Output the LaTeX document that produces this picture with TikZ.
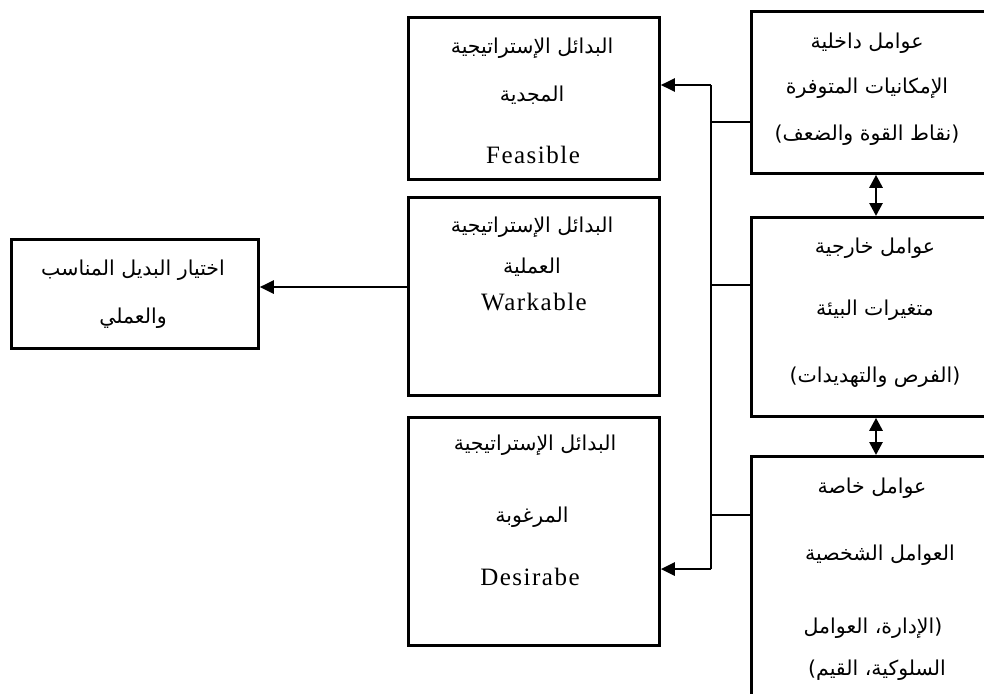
\documentclass[tikz,border=0pt]{standalone}
\usepackage{fontspec}
\setmainfont{Liberation Serif}
\newfontfamily\arabicfont[Script=Arabic]{DejaVu Sans}
\newfontfamily\latfont[LetterSpace=6]{Liberation Serif}
\TeXXeTstate=1
\usetikzlibrary{arrows.meta}
\newcommand\artxt[1]{{\arabicfont\beginR #1\endR}}
\tikzset{
  box/.style={draw=black, line width=2.8pt, fill=white, anchor=north west, inner sep=0pt},
  artx/.style={font=\fontsize{20.5}{22}\selectfont, inner sep=0pt},
  lat/.style={font=\latfont\fontsize{25}{27}\selectfont, inner sep=0pt},
  conn/.style={draw=black, line width=2.7pt},
  arr/.style={conn, -{Triangle[length=14pt,width=13pt]}},
  darr/.style={conn, {Triangle[length=13pt,width=13pt]}-{Triangle[length=13pt,width=13pt]}}
}
\begin{document}
\begin{tikzpicture}[x=1pt,y=-1pt]
\clip (0,0) rectangle (984,693);
\fill[white] (0,0) rectangle (984,693);
% right boxes
\node[box, minimum width=260pt, minimum height=162pt] (R1) at (750,10) {};
\node[box, minimum width=260pt, minimum height=199pt] (R2) at (750,216) {};
\node[box, minimum width=260pt, minimum height=260pt] (R3) at (750,455) {};
% middle boxes
\node[box, minimum width=251pt, minimum height=162pt] (M1) at (407,16) {};
\node[box, minimum width=251pt, minimum height=198pt] (M2) at (407,196) {};
\node[box, minimum width=251pt, minimum height=228pt] (M3) at (407,416) {};
% left box
\node[box, minimum width=247pt, minimum height=109pt] (L) at (10,238) {};
% texts R1
\node[artx] (r11) at (867,43) {\artxt{عوامل داخلية}};
\node[artx] (r12) at (867,88) {\artxt{الإمكانيات المتوفرة}};
\node[artx] (r13) at (867,135) {\artxt{(نقاط القوة والضعف)}};
% texts R2
\node[artx] (r21) at (875,248) {\artxt{عوامل خارجية}};
\node[artx] (r22) at (875,310) {\artxt{متغيرات البيئة}};
\node[artx] (r23) at (875,377) {\artxt{(الفرص والتهديدات)}};
% texts R3
\node[artx] (r31) at (872,488) {\artxt{عوامل خاصة}};
\node[artx] (r32) at (880,555) {\artxt{العوامل الشخصية}};
\node[artx] (r33) at (873,628) {\artxt{(الإدارة، العوامل}};
\node[artx] (r34) at (877,670) {\artxt{السلوكية، القيم)}};
% texts M1
\node[artx] (m11) at (532,48) {\artxt{البدائل الإستراتيجية}};
\node[artx] (m12) at (532,95) {\artxt{المجدية}};
\node[lat] (m13) at (533,155) {Feasible};
% texts M2
\node[artx] (m21) at (532,227) {\artxt{البدائل الإستراتيجية}};
\node[artx] (m22) at (532,267) {\artxt{العملية}};
\node[lat] (m23) at (534,302) {Warkable};
% texts M3
\node[artx] (m31) at (535,445) {\artxt{البدائل الإستراتيجية}};
\node[artx] (m32) at (532,517) {\artxt{المرغوبة}};
\node[lat] (m33) at (530,577) {Desirabe};
% texts L
\node[artx] (l1) at (133,270) {\artxt{اختيار البديل المناسب}};
\node[artx] (l2) at (133,318) {\artxt{والعملي}};
% bus
\coordinate (b1) at (711,85);
\coordinate (b2) at (711,569);
\coordinate (j1) at (711,122);
\coordinate (j2) at (711,285);
\coordinate (j3) at (711,515);
\draw[conn] (b1) -- (b2);
\draw[arr] (b1) -- (b1 -| M1.east);
\draw[arr] (b2) -- (b2 -| M3.east);
\draw[conn] (j1) -- (j1 -| R1.west);
\draw[conn] (j2) -- (j2 -| R2.west);
\draw[conn] (j3) -- (j3 -| R3.west);
% M2 to L
\coordinate (k) at (407,287);
\draw[arr] (k -| M2.west) -- (k -| L.east);
% double arrows
\coordinate (d) at (876,300);
\draw[darr] (d |- R1.south) -- (d |- R2.north);
\draw[darr] (d |- R2.south) -- (d |- R3.north);
\end{tikzpicture}
\end{document}
